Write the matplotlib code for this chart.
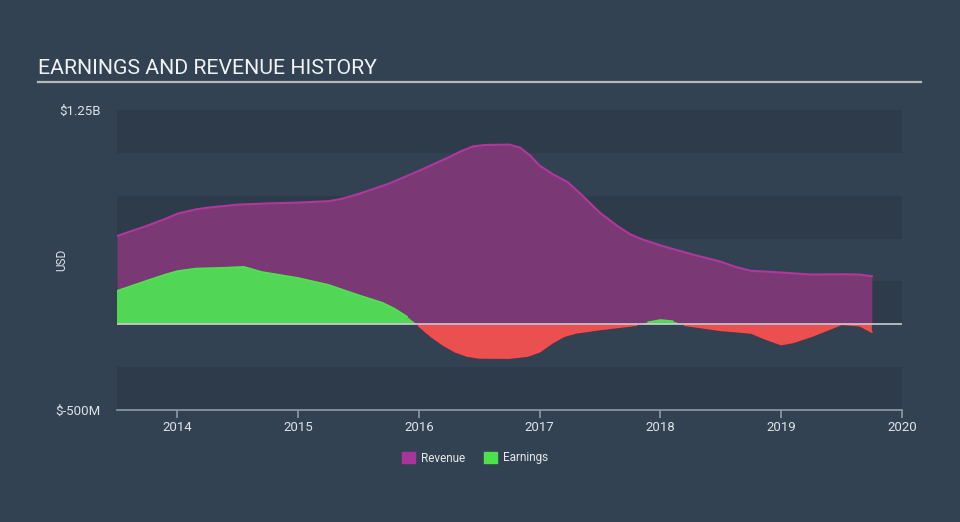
import numpy as np
import matplotlib
matplotlib.use("Agg")
import matplotlib.pyplot as plt
from matplotlib.patches import Patch

plt.rcParams['font.family'] = ['Roboto', 'DejaVu Sans']

# values in billions USD, x in decimal years
rev_x = [2013.50, 2013.75, 2013.90, 2014.00, 2014.15, 2014.25, 2014.50, 2014.75, 2015.00,
         2015.25, 2015.35, 2015.50, 2015.75, 2016.00, 2016.25, 2016.35, 2016.45, 2016.55,
         2016.75, 2016.84, 2016.92, 2017.00, 2017.11, 2017.23, 2017.34, 2017.50, 2017.65,
         2017.75, 2017.85, 2018.00, 2018.25, 2018.50, 2018.62, 2018.75, 2019.00, 2019.25,
         2019.50, 2019.65, 2019.75]
revenue = [0.515, 0.575, 0.615, 0.645, 0.670, 0.680, 0.698, 0.705, 0.710,
           0.718, 0.730, 0.760, 0.820, 0.895, 0.975, 1.010, 1.038, 1.046,
           1.048, 1.030, 0.985, 0.925, 0.875, 0.830, 0.760, 0.650, 0.570,
           0.525, 0.495, 0.460, 0.410, 0.365, 0.335, 0.312, 0.302, 0.290,
           0.292, 0.290, 0.280]

earn_x = [2013.50, 2013.75, 2013.90, 2014.00, 2014.15, 2014.40, 2014.55, 2014.70, 2015.00,
          2015.25, 2015.50, 2015.70, 2015.80, 2015.90, 2016.00, 2016.10, 2016.20, 2016.30,
          2016.40, 2016.50, 2016.75, 2016.90, 2017.00, 2017.10, 2017.20, 2017.30, 2017.50,
          2017.80, 2017.90, 2018.00, 2018.10, 2018.20, 2018.50, 2018.75, 2018.85, 2019.00,
          2019.10, 2019.25, 2019.50, 2019.65, 2019.75]
earnings = [0.195, 0.255, 0.290, 0.310, 0.325, 0.330, 0.335, 0.305, 0.270,
            0.230, 0.170, 0.125, 0.090, 0.045, -0.010, -0.070, -0.120, -0.160,
            -0.185, -0.196, -0.197, -0.185, -0.160, -0.110, -0.070, -0.050, -0.030,
            -0.005, 0.012, 0.025, 0.018, -0.005, -0.035, -0.050, -0.080, -0.118,
            -0.105, -0.070, 0.000, -0.008, -0.045]

years = [2014, 2015, 2016, 2017, 2018, 2019, 2020]

bg = '#334252'
band = '#2e3b4a'

fig = plt.figure(figsize=(9.6, 5.22), dpi=100, facecolor=bg)
ax = fig.add_axes([117/960, 1 - 410/522, 785/960, 300/522])
ax.set_facecolor(bg)

ax.set_xlim(2013.5, 2020.0)
ax.set_ylim(-0.5, 1.25)

for lo in [1.0, 0.5, 0.0, -0.5]:
    ax.axhspan(lo, lo + 0.25, color=band, lw=0, zorder=0)

rx = np.array(rev_x)
ry = np.array(revenue)
ax.fill_between(rx, 0, ry, color='#7a3975', lw=0, zorder=1)
ax.plot(rx, ry, color='#b0389a', lw=1.5, zorder=2, solid_joinstyle='round')

ex = np.array(earn_x)
ey = np.array(earnings)
ax.fill_between(ex, 0, ey, where=ey >= 0, interpolate=True, color='#52d655', lw=0, zorder=3)
ax.fill_between(ex, 0, ey, where=ey <= 0, interpolate=True, color='#eb5050', lw=0, zorder=3)
ax.plot(ex, np.where(ey >= 0, ey, np.nan), color='#4ee44e', lw=1.2, zorder=4)
ax.plot(ex, np.where(ey <= 0, ey, np.nan), color='#ff4848', lw=1.2, zorder=4)

ax.axhline(0, color='#c8ccd0', lw=1.2, zorder=5)

for s in ['top', 'right', 'left']:
    ax.spines[s].set_visible(False)
ax.spines['bottom'].set_color('#8f9aa6')
ax.spines['bottom'].set_linewidth(1.2)

ax.set_xticks(years)
ax.set_xticklabels([str(y) for y in years])
ax.tick_params(axis='x', colors='#8f9aa6', labelcolor='#dfe2e6', labelsize=9.5,
               length=6, width=1.2, pad=2)
ax.set_yticks([1.25, -0.5])
ax.set_yticklabels(['$1.25B', '$-500M'])
ax.tick_params(axis='y', length=0, labelcolor='#dfe2e6', labelsize=9.5, pad=12)

fig.text(62/960, 1 - 260/522, 'USD', rotation=90, color='#dfe2e6', fontsize=8.5,
         ha='center', va='center')

fig.text(38/960, 1 - 68/522, 'EARNINGS AND REVENUE HISTORY', color='#f0f2f4',
         fontsize=15.3, ha='left', va='center')
fig.add_artist(plt.Line2D([38/960, 921/960], [1 - 82/522, 1 - 82/522],
                          color='#b4b9be', lw=1.6))

handles = [Patch(color='#a8359a', label='Revenue'), Patch(color='#4fe04f', label='Earnings')]
leg = fig.legend(handles=handles, loc='center', bbox_to_anchor=(475/960, 1 - 458/522),
                 ncol=2, frameon=False, fontsize=8.5, handlelength=1.1, handleheight=1.1,
                 columnspacing=1.6, handletextpad=0.5)
for t in leg.get_texts():
    t.set_color('#e6e8ea')

fig.savefig('out.png', dpi=100, facecolor=bg)
